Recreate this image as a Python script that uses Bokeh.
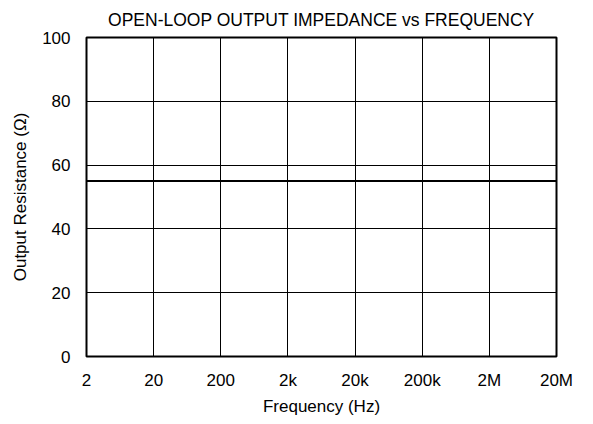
from bokeh.plotting import figure
from bokeh.models import FixedTicker, Range1d
from bokeh.embed import file_html
from bokeh.resources import INLINE

# Data
freq_hz = [2, 20, 200, 2e3, 2e4, 2e5, 2e6, 2e7]
resistance_ohm = [55, 55, 55, 55, 55, 55, 55, 55]
x_ticks = [2, 20, 200, 2e3, 2e4, 2e5, 2e6, 2e7]
x_tick_labels = ["2", "20", "200", "2k", "20k", "200k", "2M", "20M"]
y_ticks = [0, 20, 40, 60, 80, 100]

FONT = "Liberation Sans"

p = figure(
    x_axis_type="log",
    x_range=Range1d(2, 2e7),
    y_range=Range1d(0, 100),
    frame_width=470, frame_height=319,
    min_border_left=86, min_border_right=18, min_border_top=36, min_border_bottom=50,
    output_backend="svg", toolbar_location=None,
    title="OPEN-LOOP OUTPUT IMPEDANCE vs FREQUENCY",
)
p.title.align = "center"
p.title.text_font = FONT
p.title.text_font_size = "17.5px"
p.title.text_font_style = "normal"
p.title.text_color = "#000000"
p.title.standoff = 15

p.line(freq_hz, resistance_ohm, line_color="black", line_width=2)

p.outline_line_color = "black"
p.outline_line_width = 2
p.outline_line_alpha = 1

p.xaxis.ticker = FixedTicker(ticks=x_ticks)
p.xaxis.major_label_overrides = {t: l for t, l in zip(x_ticks, x_tick_labels)}
p.yaxis.ticker = FixedTicker(ticks=y_ticks)

for ax in (p.xaxis, p.yaxis):
    ax.axis_line_color = None
    ax.major_tick_line_color = None
    ax.minor_tick_line_color = None
    ax.major_tick_out = 0
    ax.major_tick_in = 0
    ax.minor_tick_out = 0
    ax.minor_tick_in = 0
    ax.major_label_text_font = FONT
    ax.major_label_text_font_size = "17px"
    ax.major_label_text_color = "black"
    ax.axis_label_text_font = FONT
    ax.axis_label_text_font_size = "17px"
    ax.axis_label_text_font_style = "normal"
    ax.axis_label_text_color = "black"

p.xaxis.axis_label = "Frequency (Hz)"
p.yaxis.axis_label = "Output Resistance (Ω)"
p.xaxis.major_label_standoff = 14
p.yaxis.major_label_standoff = 16
p.xaxis.axis_label_standoff = 4
p.yaxis.axis_label_standoff = 9

p.xgrid.grid_line_color = "black"
p.ygrid.grid_line_color = "black"
p.xgrid.grid_line_alpha = 1
p.ygrid.grid_line_alpha = 1
p.xgrid.grid_line_width = 1
p.ygrid.grid_line_width = 1

p.background_fill_color = "white"
p.border_fill_color = "white"

open("out.html", "w").write(file_html(p, INLINE))
